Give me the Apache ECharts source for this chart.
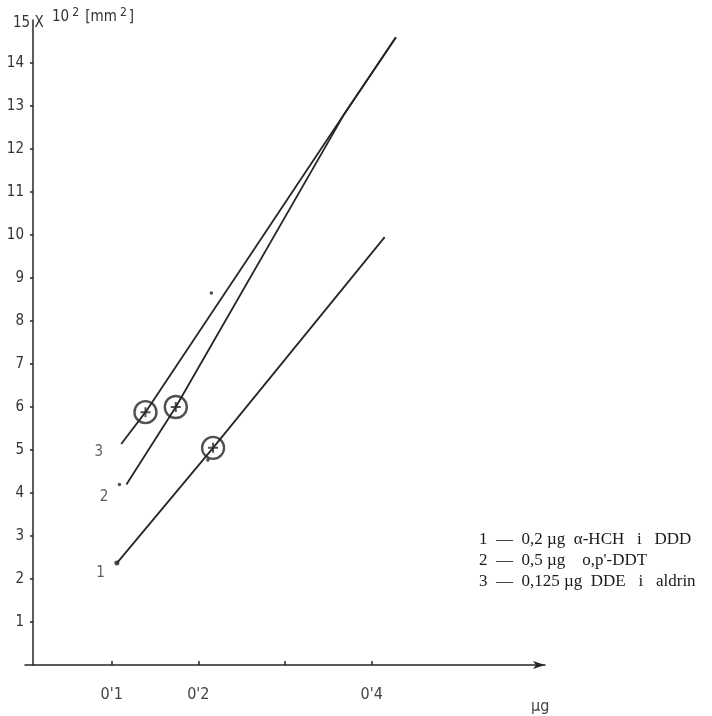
<!DOCTYPE html>
<html>
<head>
<meta charset="utf-8">
<script src="https://cdn.jsdelivr.net/npm/echarts@6/dist/echarts.min.js"></script>
<style>
html,body{margin:0;padding:0;background:#fff;}
#c{width:712px;height:716px;}
</style>
</head>
<body>
<div id="c"></div>
<script>
// ---- data (x in µg, y in 10^2 mm^2) ----
const line1X = [0.106, 0.217, 0.415];
const line1Y = [2.37, 5.05, 9.95];
const line2X = [0.117, 0.174, 0.368, 0.428];
const line2Y = [4.2, 6.0, 12.8, 14.6];
const line3X = [0.111, 0.139, 0.368, 0.428];
const line3Y = [5.14, 5.88, 12.8, 14.6];
const circledX = [0.139, 0.174, 0.217];
const circledY = [5.88, 6.0, 5.05];
const strayX = [0.109, 0.211, 0.215];
const strayY = [4.2, 4.77, 8.65];
const lineNames = ['1', '2', '3'];
const xTickValues = [0.1, 0.2, 0.3, 0.4];
const xLabelValues = [0.1, 0.2, 0.4];
const xLabelTexts = {0.1: "0'1", 0.2: "0'2", 0.4: "0'4"};
const yTickValues = [1,2,3,4,5,6,7,8,9,10,11,12,13,14];
const yTopLabel = '15 X';
const yUnit = '10';
const xUnit = 'µg';
const legendLines = [
  '1  —  0,2 µg  α-HCH   i   DDD',
  '2  —  0,5 µg    o,p\'-DDT',
  '3  —  0,125 µg  DDE   i   aldrin'
];

const zip = (xs, ys) => xs.map((x, i) => [x, ys[i]]);
const ink = '#262626';
const handFont = '"DejaVu Sans Condensed","DejaVu Sans",sans-serif';
const startLabelOffsets = [[-6, 10], [-12, 13], [-12, 8]];

function lineSeries(xs, ys, name) {
  return {
    type: 'line', name: name, data: zip(xs, ys), symbol: 'none',
    lineStyle: {color: ink, width: 1.8}, silent: true, z: 2
  };
}

const startPoints = [zip(line1X, line1Y)[0], zip(line2X, line2Y)[0], zip(line3X, line3Y)[0]];

const chart = echarts.init(document.getElementById('c'), null, {renderer: 'canvas'});
chart.setOption({
  backgroundColor: '#ffffff',
  animation: false,
  grid: {left: 25, right: 167, top: 20, bottom: 51},
  xAxis: {
    type: 'value', min: 0, max: 0.6, interval: 0.1,
    axisLine: {show: true, symbol: ['none', 'arrow'], symbolSize: [6, 12],
               lineStyle: {color: ink, width: 1.5}},
    axisTick: {show: true, inside: true, length: 4, customValues: xTickValues,
               lineStyle: {color: ink, width: 1.5}},
    axisLabel: {customValues: xLabelValues, formatter: v => xLabelTexts[v] || '',
                margin: 22, fontFamily: handFont, fontSize: 16, color: '#444'},
    splitLine: {show: false},
    name: xUnit, nameLocation: 'end', nameGap: -14,
    nameTextStyle: {fontFamily: handFont, fontSize: 16, color: '#444',
                    verticalAlign: 'top', padding: [34, 0, 0, 0]}
  },
  yAxis: {
    type: 'value', min: 0, max: 15, interval: 1, offset: -8,
    axisLine: {show: true, lineStyle: {color: ink, width: 1.5}},
    axisTick: {show: true, length: 3, customValues: yTickValues,
               lineStyle: {color: ink, width: 1.5}},
    axisLabel: {customValues: yTickValues, margin: 9, fontFamily: handFont,
                fontSize: 15, color: '#333'},
    splitLine: {show: false}
  },
  series: [
    lineSeries(line1X, line1Y, lineNames[0]),
    lineSeries(line2X, line2Y, lineNames[1]),
    lineSeries(line3X, line3Y, lineNames[2]),
    {
      type: 'scatter', silent: true, z: 5, symbol: 'circle', symbolSize: 2,
      itemStyle: {color: 'rgba(255,255,255,0)'},
      data: startPoints.map((p, i) => ({
        value: p,
        label: {show: true, formatter: lineNames[i], position: 'left',
                offset: startLabelOffsets[i], fontFamily: handFont, fontSize: 15, color: '#333'}
      }))
    },
    {
      type: 'scatter', data: zip(circledX, circledY), symbol: 'circle', symbolSize: 22,
      itemStyle: {color: 'rgba(0,0,0,0)', borderColor: ink, borderWidth: 2.4}, z: 3, silent: true
    },
    {
      type: 'scatter', data: zip(circledX, circledY),
      symbol: 'path://M0,4H10V6H0Z M4,0H6V10H4Z', symbolSize: 10,
      itemStyle: {color: ink}, z: 4, silent: true
    },
    {
      type: 'scatter', data: zip(strayX, strayY), symbol: 'circle', symbolSize: 3.5,
      itemStyle: {color: ink}, z: 4, silent: true
    },
    {
      type: 'scatter', data: [startPoints[0]], symbol: 'circle', symbolSize: 5,
      itemStyle: {color: ink}, z: 4, silent: true
    }
  ],
  graphic: [
    {type: 'text', left: 13, top: 16,
     style: {text: yTopLabel, font: '15px ' + handFont, fill: '#333'}},
    {type: 'text', left: 52, top: 7,
     style: {text: '{b|' + yUnit + '}{s|2}{b| [mm}{s|2}{b|]}',
             rich: {b: {fontFamily: handFont, fontSize: 15, fill: '#333', color: '#333', verticalAlign: 'bottom'},
                    s: {fontFamily: handFont, fontSize: 12, fill: '#333', color: '#333', verticalAlign: 'top', padding: [0, 2, 6, 3]}}}},
    {type: 'text', left: 479, top: 531,
     style: {text: legendLines[0], font: '17px "Liberation Serif", serif', fill: '#1a1a1a'}},
    {type: 'text', left: 479, top: 552,
     style: {text: legendLines[1], font: '17px "Liberation Serif", serif', fill: '#1a1a1a'}},
    {type: 'text', left: 479, top: 573,
     style: {text: legendLines[2], font: '17px "Liberation Serif", serif', fill: '#1a1a1a'}}
  ]
});
</script>
</body>
</html>
